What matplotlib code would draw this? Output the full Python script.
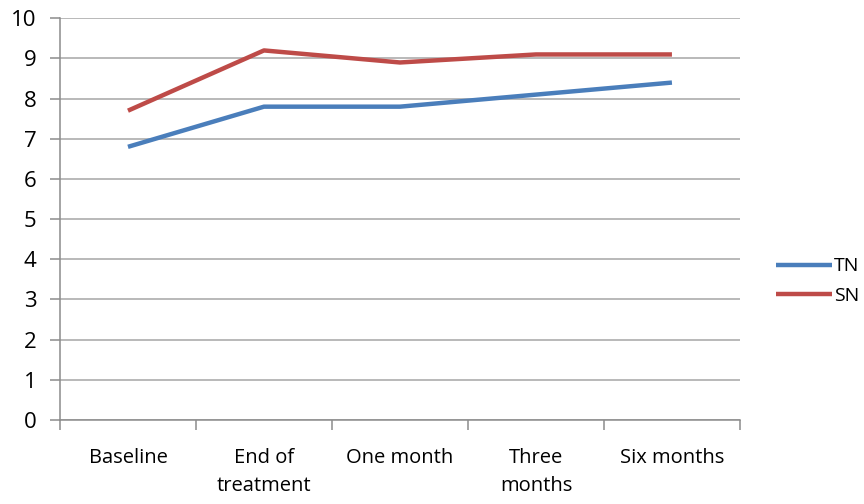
import matplotlib
matplotlib.use("Agg")
import matplotlib.pyplot as plt
from matplotlib.ticker import FixedLocator, NullFormatter

plt.rcParams['font.family'] = ['Open Sans', 'DejaVu Sans']

categories = ["Baseline", "End of\ntreatment", "One month", "Three\nmonths", "Six months"]
tn_values = [6.8, 7.8, 7.8, 8.1, 8.4]
sn_values = [7.7, 9.2, 8.9, 9.1, 9.1]
y_ticks = list(range(0, 11))

fig = plt.figure(figsize=(8.64, 5.04), dpi=100)
ax = fig.add_axes([0.0694, 0.1667, 0.787, 0.797])

x = list(range(len(categories)))
ax.plot(x, tn_values, color="#4a7ebb", lw=3.2, solid_capstyle="butt", label="TN", zorder=3)
ax.plot(x, sn_values, color="#be4b48", lw=3.2, solid_capstyle="butt", label="SN", zorder=3)

ax.set_xlim(-0.5, len(categories) - 0.5)
ax.set_ylim(0, 10)
ax.set_yticks(y_ticks)
ax.yaxis.grid(True, color="#a6a6a6", lw=1.1)
ax.set_axisbelow(True)

ax.set_xticks(x)
ax.set_xticklabels(categories, fontsize=14.5, va="top", linespacing=1.55)
ax.xaxis.set_minor_locator(FixedLocator([i - 0.5 for i in range(len(categories) + 1)]))
ax.xaxis.set_minor_formatter(NullFormatter())
ax.tick_params(axis="x", which="major", length=0, pad=20)
ax.tick_params(axis="x", which="minor", length=7, color="#8c8c8c", width=1.1)
ax.tick_params(axis="y", length=7, color="#8c8c8c", width=1.1, labelsize=16, pad=10)

for side in ("top", "right"):
    ax.spines[side].set_visible(False)
for side in ("left", "bottom"):
    ax.spines[side].set_color("#8c8c8c")
    ax.spines[side].set_linewidth(1.1)

fig.legend(loc="center left", bbox_to_anchor=(0.898, 0.442), frameon=False,
           borderpad=0, borderaxespad=0,
           fontsize=14, handlelength=2.9, handletextpad=0.1, labelspacing=0.6)

fig.savefig("out.png", dpi=100)
